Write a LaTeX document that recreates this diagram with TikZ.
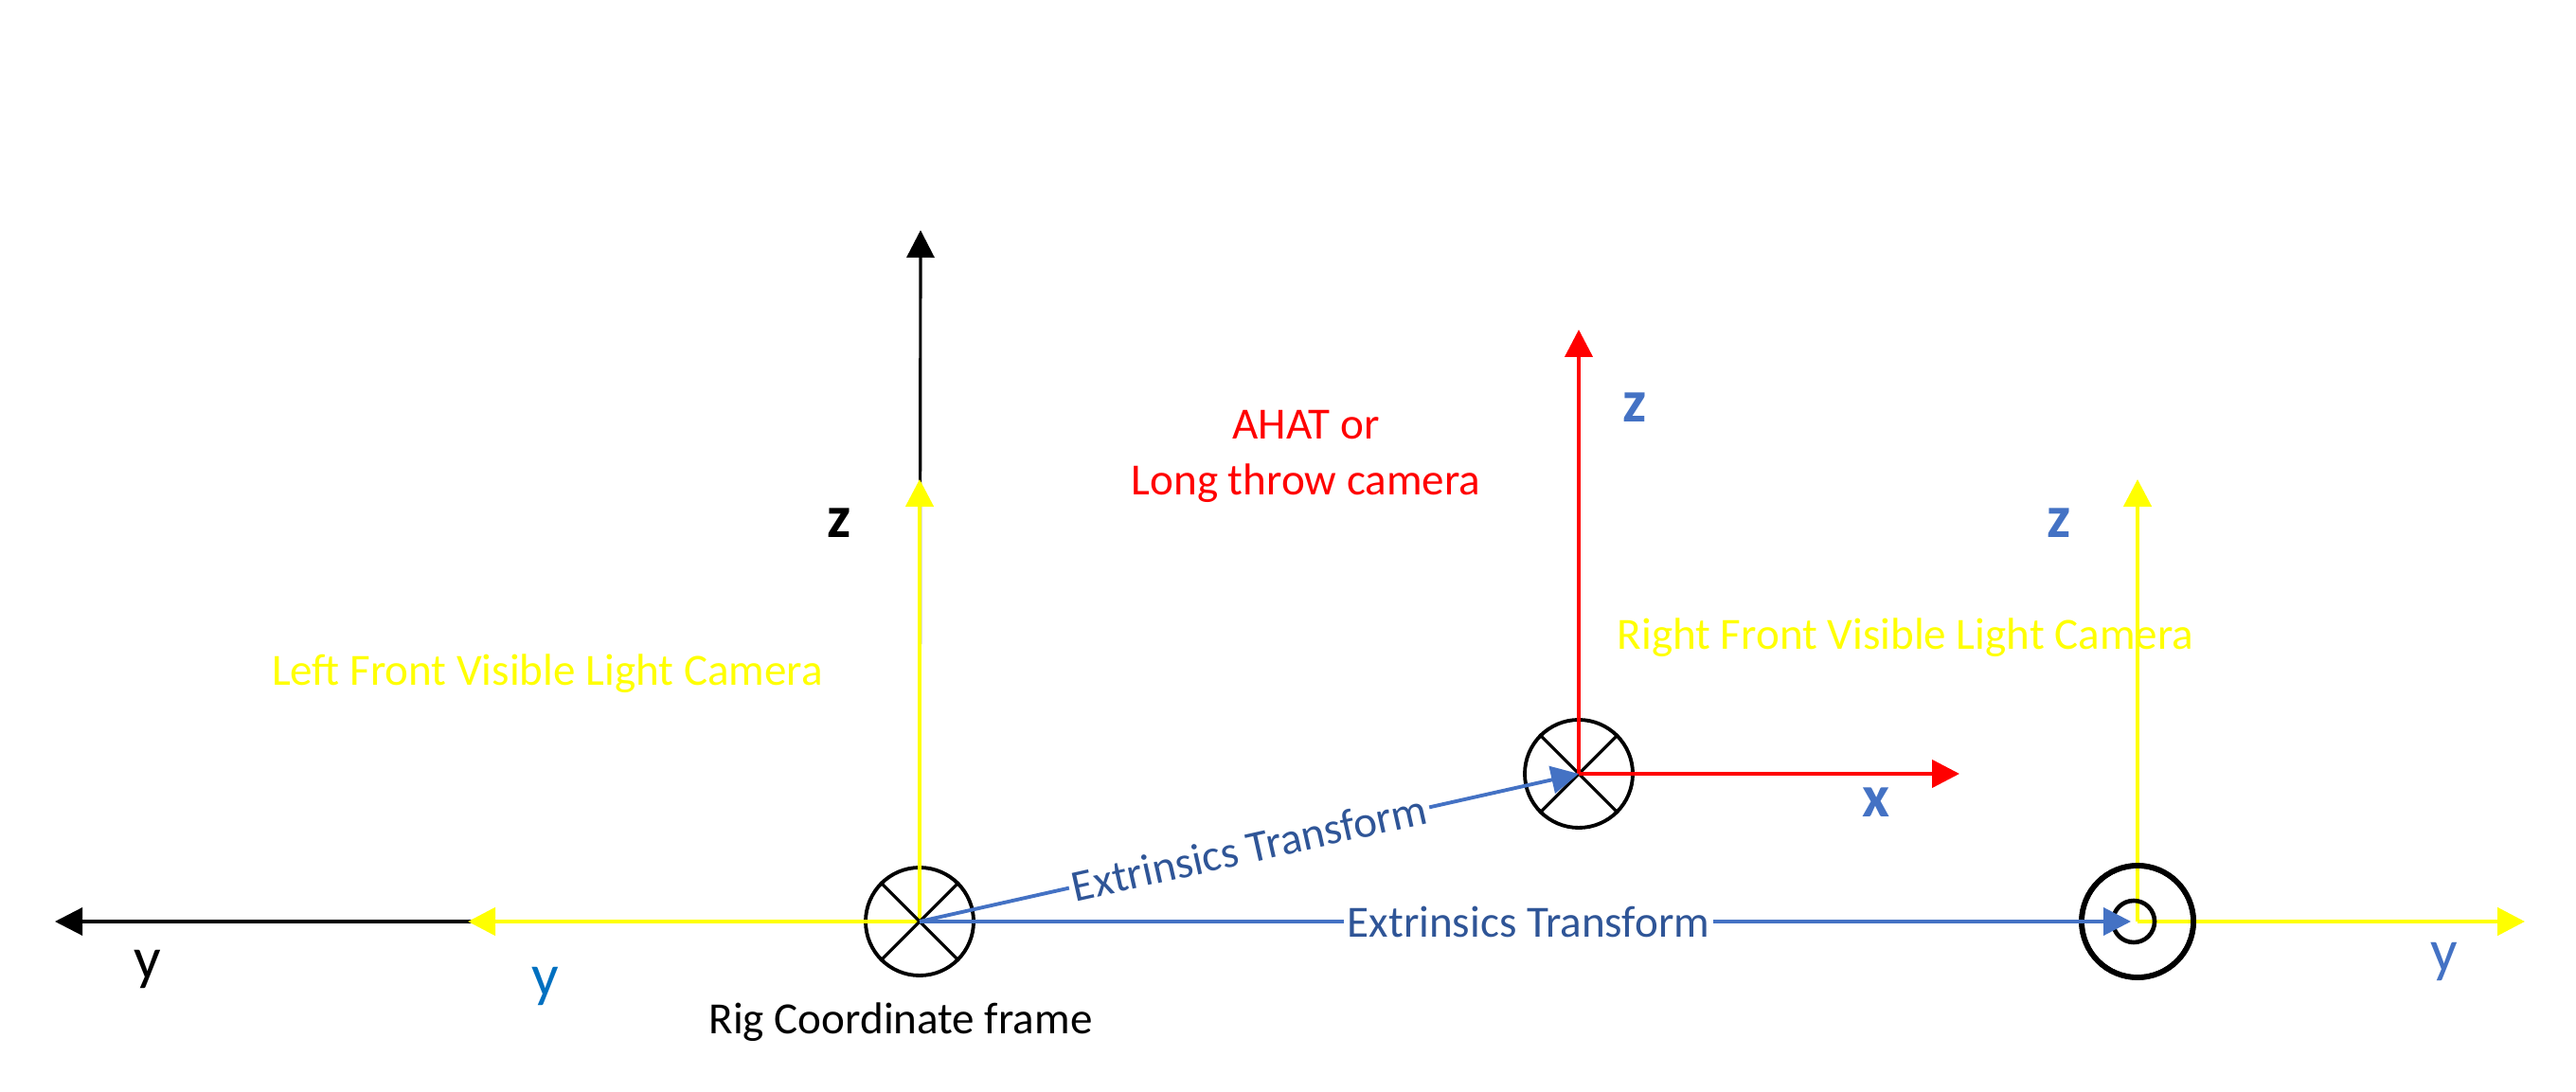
\documentclass[tikz,border=0pt]{standalone}
\usepackage{fontspec}
\setmainfont{Carlito}
\usepackage{tikz}
\usepackage{xcolor}
\usetikzlibrary{arrows.meta}

\definecolor{xfblue}{HTML}{4472C4}
\definecolor{xftext}{HTML}{2F5597}
\definecolor{ylblue}{HTML}{0070C0}
\definecolor{camyellow}{HTML}{FFFF00}

\begin{document}
\begin{tikzpicture}[
  axtip/.style={-{Triangle[length=0.29cm,width=0.29cm]}},
  frame/.style={draw,circle,line width=1.1pt,minimum size=1.14cm,inner sep=0pt},
  lbl/.style={font=\fontsize{13.4}{16.8}\selectfont},
  axlbl/.style={font=\fontsize{18}{20}\selectfont},
  axlblb/.style={font=\fontsize{18}{20}\selectfont\bfseries}
]
\useasboundingbox (0,0) rectangle (27.2,11.52);

% axis end points
\coordinate (rigZ) at (9.72,9.09);
\coordinate (rigY) at (0.58,1.79);
\coordinate (lfZ) at (9.71,6.46);
\coordinate (lfY) at (4.94,1.79);
\coordinate (ahatZ) at (16.67,8.04);
\coordinate (ahatX) at (20.69,3.35);
\coordinate (rfZ) at (22.57,6.46);
\coordinate (rfY) at (26.66,1.79);

% the three frames
\node[frame] (rig) at (9.71,1.79) {};
\node[frame] (ahat) at (16.67,3.35) {};
\node[frame,line width=1.6pt,minimum size=1.18cm] (rf) at (22.57,1.79) {};

% rig axes
\draw[axtip,black,line width=0.9pt] (rig.center) -- (rigZ);
\draw[axtip,black,line width=0.9pt] (rig.center) -- (rigY);
\draw[axtip,camyellow,line width=1.3pt] (rig.center) -- (lfZ);
\draw[axtip,camyellow,line width=1.3pt] (rig.center) -- (lfY);

% right camera axes, under its circles
\draw[axtip,camyellow,line width=1.3pt] (rf.center) -- (rfZ);
\draw[axtip,camyellow,line width=1.3pt] (rf.center) -- (rfY);
\node[frame,line width=1.6pt,minimum size=1.18cm] at (rf) {};
\node[draw,circle,line width=1.3pt,minimum size=0.44cm,inner sep=0pt] (rfdot) at (22.53,1.79) {};

% crosses
\draw[line width=0.9pt] (rig.north east) -- (rig.south west) (rig.north west) -- (rig.south east);
\draw[line width=0.9pt] (ahat.north east) -- (ahat.south west) (ahat.north west) -- (ahat.south east);

% AHAT axes
\draw[axtip,red,line width=1.2pt] (ahat.center) -- (ahatZ);
\draw[axtip,red,line width=1.2pt] (ahat.center) -- (ahatX);

% extrinsics
\draw[axtip,xfblue,line width=1.1pt] (rig.center) -- node[sloped,fill=white,inner sep=1pt,lbl,text=xftext] (xfa) {Extrinsics Transform} (ahat.center);
\draw[axtip,xfblue,line width=1.1pt,shorten >=0.07cm] (rig.center) -- node[fill=white,inner sep=1pt,lbl,text=xftext] (xfb) {Extrinsics Transform} (rf.center);

% labels
\node[axlblb] (lz) at (8.86,6.00) {z};
\node[axlbl] (ly) at (1.56,1.29) {y};
\node[axlbl,text=ylblue] (lfy) at (5.76,1.11) {y};
\node[lbl] (rigname) at (9.51,0.73) {Rig Coordinate frame};
\node[lbl,text=camyellow] (lfname) at (5.78,4.41) {Left Front Visible Light Camera};
\node[lbl,text=red,align=center] (ahatname) at (13.79,6.70) {AHAT or\\Long throw camera};
\node[axlblb,text=xfblue] (az) at (17.26,7.22) {z};
\node[axlblb,text=xfblue] (ax) at (19.81,3.05) {x};
\node[lbl,text=camyellow] (rfname) at (20.12,4.79) {Right Front Visible Light Camera};
\node[axlblb,text=xfblue] (rz) at (21.74,6.00) {z};
\node[axlbl,text=xfblue] (ry) at (25.81,1.37) {y};
\end{tikzpicture}
\end{document}
